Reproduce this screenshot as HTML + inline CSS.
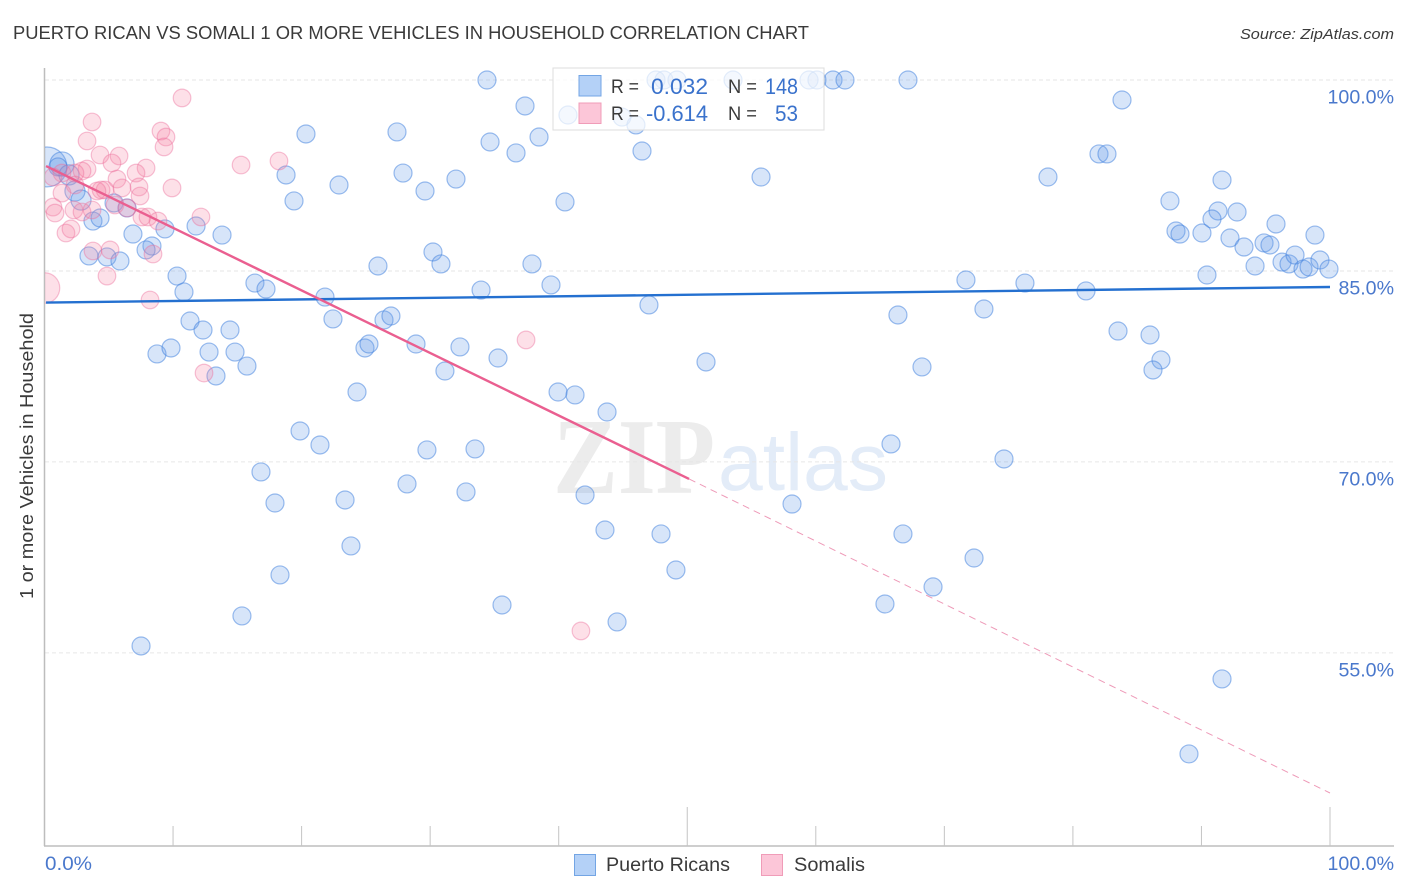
<!DOCTYPE html>
<html lang="en">
<head>
<meta charset="utf-8">
<title>Puerto Rican vs Somali 1 or More Vehicles in Household Correlation Chart</title>
<style>
html,body{margin:0;padding:0;background:#fff;width:1406px;height:892px;overflow:hidden}
svg{display:block;font-family:"Liberation Sans",sans-serif}
</style>
</head>
<body>
<svg id="chart" width="1406" height="892" viewBox="0 0 1406 892" xmlns="http://www.w3.org/2000/svg">
  <defs><clipPath id="plot-clip"><rect x="45" y="60" width="1350" height="786"/></clipPath></defs>
  <text x="13" y="39" font-size="18" fill="#3a3a3a" textLength="796" lengthAdjust="spacingAndGlyphs">PUERTO RICAN VS SOMALI 1 OR MORE VEHICLES IN HOUSEHOLD CORRELATION CHART</text>
  <text x="1394" y="39" font-size="15" font-style="italic" fill="#3a3a3a" text-anchor="end" textLength="154" lengthAdjust="spacingAndGlyphs">Source: ZipAtlas.com</text>
  <g>
    <text x="553" y="493" font-family="'Liberation Serif',serif" font-size="108" font-weight="700" fill="#ececec" textLength="162" lengthAdjust="spacingAndGlyphs">ZIP</text>
    <text x="718" y="490" font-size="82" fill="#e3ecf8" textLength="170" lengthAdjust="spacingAndGlyphs">atlas</text>
  </g>
  <g id="grid"></g>
  <g id="axes"></g>
  <g id="points" clip-path="url(#plot-clip)"></g>
  <g id="trends"></g>
  <g id="tick-labels"></g>
  <text transform="translate(33,456) rotate(-90)" font-size="18.5" fill="#3a3a3a" text-anchor="middle" textLength="286" lengthAdjust="spacingAndGlyphs">1 or more Vehicles in Household</text>
  <g>
    <rect x="553" y="68" width="271" height="62" fill="#fff" fill-opacity="0.72" stroke="#ddd" stroke-width="1"/>
    <rect x="579" y="75.5" width="22" height="20.5" fill="#b4d1f7" stroke="#73a5e4"/>
    <rect x="579" y="103" width="22" height="20.5" fill="#fcc6d8" stroke="#f09cb8"/>
    <text x="611" y="93" font-size="19" fill="#3a3a3a" textLength="28" lengthAdjust="spacingAndGlyphs">R =</text>
    <text x="651" y="94" font-size="22" fill="#3a72cc" textLength="57" lengthAdjust="spacingAndGlyphs">0.032</text>
    <text x="728" y="93" font-size="19" fill="#3a3a3a" textLength="29" lengthAdjust="spacingAndGlyphs">N =</text>
    <text x="765" y="94" font-size="22" fill="#3a72cc" textLength="33" lengthAdjust="spacingAndGlyphs">148</text>
    <text x="611" y="120" font-size="19" fill="#3a3a3a" textLength="28" lengthAdjust="spacingAndGlyphs">R =</text>
    <text x="646" y="121" font-size="22" fill="#3a72cc" textLength="62" lengthAdjust="spacingAndGlyphs">-0.614</text>
    <text x="728" y="120" font-size="19" fill="#3a3a3a" textLength="29" lengthAdjust="spacingAndGlyphs">N =</text>
    <text x="775" y="121" font-size="22" fill="#3a72cc" textLength="23" lengthAdjust="spacingAndGlyphs">53</text>
  </g>
  <g>
    <rect x="574.5" y="854.5" width="21" height="21" fill="#b4d1f7" stroke="#73a5e4"/>
    <text x="606" y="871" font-size="19" fill="#3a3a3a" textLength="124" lengthAdjust="spacingAndGlyphs">Puerto Ricans</text>
    <rect x="761.5" y="854.5" width="21" height="21" fill="#fcc6d8" stroke="#f09cb8"/>
    <text x="794" y="871" font-size="19" fill="#3a3a3a" textLength="71" lengthAdjust="spacingAndGlyphs">Somalis</text>
  </g>
</svg>
<script>
const yTicks = [100, 85, 70, 55];
const yTickLabels = ["100.0%", "85.0%", "70.0%", "55.0%"];
const xTicks = [0, 10, 20, 30, 40, 50, 60, 70, 80, 90, 100];
const xEdgeLabels = ["0.0%", "100.0%"];

const blueX = [0.19,1.36,1.05,1.91,2.37,2.84,34.42,47.57,48.19,49.20,53.56,59.47,60.09,61.34,62.27,67.17,37.38,83.82,40.72,44.92,46.01,38.47,20.34,27.42,34.66,46.48,36.68,82.03,82.65,18.79,27.89,22.91,32.01,55.74,78.06,91.60,29.60,19.41,40.49,87.55,91.29,92.77,90.82,95.80,88.02,88.33,90.04,92.22,93.31,94.17,94.87,95.33,96.27,96.81,97.28,97.90,98.37,99.22,99.92,98.83,90.43,5.41,6.42,3.77,4.32,6.88,9.37,11.79,13.81,8.36,7.90,3.46,4.86,5.87,10.31,10.85,16.37,11.32,17.23,21.82,22.44,12.33,14.43,26.41,26.95,8.75,9.84,12.80,14.82,15.75,13.34,24.93,25.24,28.90,32.32,35.28,31.15,24.31,39.95,41.27,43.76,19.88,21.43,29.75,33.49,16.84,17.93,23.38,28.20,32.79,42.05,23.84,43.60,47.96,18.32,49.12,35.59,15.36,44.54,7.51,30.22,30.84,25.94,37.92,39.40,33.96,47.02,51.46,58.15,65.85,66.78,68.26,66.39,73.08,71.68,76.27,81.02,83.51,86.00,86.85,86.23,74.64,72.31,69.12,65.38,91.60,89.03];
const blueY = [93.17,93.40,93.17,92.54,91.28,90.57,100,100,100,100,100,100,100,100,100,100,97.96,98.43,97.25,97.09,96.47,95.52,95.76,95.92,95.13,94.42,94.27,94.19,94.19,92.54,92.69,91.75,92.22,92.38,92.38,92.14,91.28,90.50,90.42,90.50,89.71,89.63,89.08,88.69,88.14,87.90,87.98,87.59,86.88,85.39,87.20,87.04,85.70,85.55,86.25,85.15,85.31,85.86,85.15,87.82,84.68,90.34,89.95,88.92,89.16,87.90,88.30,88.53,87.82,86.96,86.65,86.18,86.10,85.78,84.60,83.35,84.05,81.07,83.58,82.95,81.23,80.36,80.36,81.15,81.46,78.48,78.95,78.63,78.63,77.53,76.75,78.95,79.26,79.26,79.03,78.16,77.14,75.49,75.49,75.26,73.92,72.43,71.33,70.94,71.02,69.21,66.77,67.01,68.27,67.64,67.40,63.40,64.65,64.34,61.12,61.51,58.76,57.90,57.43,55.54,86.49,85.55,85.39,85.55,83.90,83.50,82.33,77.85,66.69,71.41,64.34,77.46,81.54,82.01,84.29,84.05,83.43,80.28,79.97,78.01,77.22,70.23,62.45,60.18,58.84,52.95,47.06];
const blueWeights = [4.9,1.8,1,1.25,1.25,1.25];

const pinkX = [0,10.70,3.70,3.31,4.32,5.80,5.25,9.06,9.45,9.30,15.29,7.90,7.12,3.31,2.92,2.37,5.64,1.36,0.66,7.35,6.03,9.92,7.43,4.40,4.71,4.08,2.37,1.36,0.66,0.82,2.29,2.92,3.70,5.48,6.42,7.58,8.05,8.83,12.17,1.67,2.06,3.77,5.10,8.44,4.86,8.21,18.24,12.41,37.46,41.73];
const pinkY = [83.66,98.59,96.70,95.21,94.11,94.03,93.48,95.99,95.52,94.74,93.32,93.09,92.69,93.01,92.85,92.69,92.22,92.69,92.38,91.60,91.52,91.52,90.89,91.36,91.36,91.28,91.75,91.12,90.02,89.55,89.79,89.63,89.79,90.18,89.95,89.24,89.24,88.92,89.24,87.98,88.30,86.57,86.65,86.33,84.60,82.72,93.64,76.98,79.58,56.72];
const pinkWeights = [3];

const blueTrendX = [0.12, 100];
const blueTrendY = [82.52, 83.74];
const pinkTrendX = [0.12, 50.14];
const pinkTrendY = [93.24, 68.66];
const pinkDashX = [50.14, 100];
const pinkDashY = [68.66, 43.99];

const NS = "http://www.w3.org/2000/svg";
function xScale(v){ return 44.5 + v * 12.855; }
function yScale(v){ return 80 + (100 - v) * 12.73; }
function make(tag, parent, attrs){
  const el = document.createElementNS(NS, tag);
  for (const k in attrs) el.setAttribute(k, attrs[k]);
  document.getElementById(parent).appendChild(el);
  return el;
}

yTicks.forEach(function(t){
  const g = make("line", "grid", {x1:45, x2:1394, y1:yScale(t), y2:yScale(t), stroke:"#e6e6e6", "stroke-width":1, "stroke-dasharray":"4 3"});
  
  
});

const yAxis = make("line", "axes", {x1:44.5, x2:44.5, y1:68, y2:846, stroke:"#bdbdbd", "stroke-width":1.5});


const xAxis = make("line", "axes", {x1:44, x2:1394, y1:846, y2:846, stroke:"#bdbdbd", "stroke-width":1.5});


xTicks.forEach(function(t){
  if (t === 0) return;
  const top = t % 50 === 0 ? 807 : 826;
  const tick = make("line", "axes", {x1:xScale(t), x2:xScale(t), y1:top, y2:846, stroke:"#c4c4c4", "stroke-width":1});
  
  
});

yTickLabels.forEach(function(label, i){
  const el = make("text", "tick-labels", {x:1394, y:yScale(yTicks[i]) + 23.5, "font-size":19.6, fill:"#4a78cc", "text-anchor":"end"});
  el.textContent = label;
  
  
});
const xLabelLeft = make("text", "tick-labels", {x:45, y:870, "font-size":19.6, fill:"#4a78cc", textLength:47, lengthAdjust:"spacingAndGlyphs"});
xLabelLeft.textContent = xEdgeLabels[0];


const xLabelRight = make("text", "tick-labels", {x:1394, y:870, "font-size":19.6, fill:"#4a78cc", "text-anchor":"end"});
xLabelRight.textContent = xEdgeLabels[1];



blueX.forEach(function(x, i){
  const w = blueWeights[i] || 1;
  const c = make("circle", "points", {cx:xScale(x), cy:yScale(blueY[i]), r:9 * Math.sqrt(w), fill:"rgba(100,155,232,0.26)", stroke:"rgba(60,125,222,0.5)", "stroke-width":1.2});
  
  
});
pinkX.forEach(function(x, i){
  const w = pinkWeights[i] || 1;
  const c = make("circle", "points", {cx:xScale(x), cy:yScale(pinkY[i]), r:8.8 * Math.sqrt(w), fill:"rgba(248,130,165,0.25)", stroke:"rgba(235,110,155,0.42)", "stroke-width":1.2});
  
  
});

const blueTrend = make("line", "trends", {x1:xScale(blueTrendX[0]), y1:yScale(blueTrendY[0]), x2:xScale(blueTrendX[1]), y2:yScale(blueTrendY[1]), stroke:"#2470d0", "stroke-width":2.4});


const pinkTrend = make("line", "trends", {x1:xScale(pinkTrendX[0]), y1:yScale(pinkTrendY[0]), x2:xScale(pinkTrendX[1]), y2:yScale(pinkTrendY[1]), stroke:"#ea5f90", "stroke-width":2.4});


const pinkDash = make("line", "trends", {x1:xScale(pinkDashX[0]), y1:yScale(pinkDashY[0]), x2:xScale(pinkDashX[1]), y2:yScale(pinkDashY[1]), stroke:"#ee9ab8", "stroke-width":1, "stroke-dasharray":"7 5"});


</script>
</body>
</html>
